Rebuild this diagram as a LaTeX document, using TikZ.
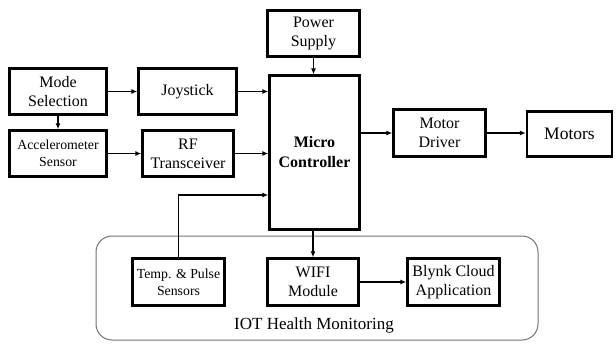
\documentclass[tikz,border=0pt]{standalone}
\usepackage{fontspec}
\setmainfont{Liberation Serif}
\usetikzlibrary{arrows.meta}
\begin{document}
\begin{tikzpicture}[x=1pt,y=-1pt,
  blk/.style={draw, line width=2.4pt, inner sep=0pt, align=center,
    font=\fontsize{16}{19}\selectfont},
  smallblk/.style={blk, font=\fontsize{13.8}{17}\selectfont},
  arr/.style={line width=1.5pt, -{Latex[length=6pt,width=5pt]}},
  group/.style={draw=black!55, line width=1pt, rounded corners=16pt}]
\useasboundingbox (0,0) rectangle (616,357);
\fill[white] (0,0) rectangle (616,357);
% IOT group
\node[group, minimum width=442pt, minimum height=104pt] (iot) at (317,288) {};
\node[font=\fontsize{17}{20}\selectfont] (iotlbl) at (314,325) {IOT Health Monitoring};
% blocks
\node[blk, minimum width=97pt, minimum height=46pt] (mode) at (58,91.5) {Mode\\Selection};
\node[blk, minimum width=98pt, minimum height=46pt] (joy) at (187.5,91.5) {Joystick};
\node[smallblk, minimum width=97pt, minimum height=46pt] (acc) at (58,153.5) {Accelerometer\\Sensor};
\node[blk, minimum width=91pt, minimum height=46pt] (rf) at (188,153.5) {RF\\Transceiver};
\node[blk, minimum width=92pt, minimum height=46pt] (ps) at (313.5,33.5) {Power\\Supply};
\node[blk, minimum width=90pt, minimum height=154pt, font=\bfseries\fontsize{16}{20}\selectfont] (mc) at (314.5,152.5) {Micro\\Controller};
\node[blk, minimum width=92pt, minimum height=47pt] (md) at (439.5,133) {Motor\\Driver};
\node[blk, minimum width=85pt, minimum height=45pt, font=\fontsize{17.5}{20}\selectfont] (mot) at (569.5,134) {Motors};
\node[smallblk, minimum width=92pt, minimum height=47pt] (temp) at (178.5,282) {Temp. \& Pulse\\Sensors};
\node[blk, minimum width=91pt, minimum height=47pt] (wifi) at (313,282) {WIFI\\Module};
\node[blk, minimum width=92pt, minimum height=47pt] (blynk) at (453.5,282) {Blynk Cloud\\Application};
\coordinate (tp) at (0,195);
% connectors
\draw[arr] (mode.east) -- (joy.west);
\draw[arr] (joy.east) -- (joy.east -| mc.west);
\draw[arr] (mode.south) -- (acc.north);
\draw[arr] (acc.east) -- (rf.west);
\draw[arr] (rf.east) -- (rf.east -| mc.west);
\draw[arr] (ps.south) -- (ps.south |- mc.north);
\draw[arr] (md.west -| mc.east) -- (md.west);
\draw[arr] (md.east) -- (md.east -| mot.west);
\draw[arr] (temp.north) |- (mc.west |- tp);
\draw[arr] (wifi.north |- mc.south) -- (wifi.north);
\draw[arr] (wifi.east) -- (blynk.west);
\end{tikzpicture}
\end{document}
